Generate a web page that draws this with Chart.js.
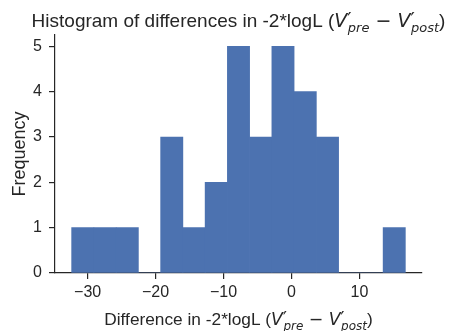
<!DOCTYPE html>
<html>
<head>
<meta charset="utf-8">
<script src="https://cdn.jsdelivr.net/npm/chart.js@4.4.1/dist/chart.umd.min.js"></script>
<style>
  html, body { margin: 0; padding: 0; background: #fff; }
  canvas { display: block; }
</style>
</head>
<body>
<canvas id="chart" width="453" height="331"></canvas>
<script>
// histogram bins (edges) and counts per bin
const binEdges = [-32.35, -29.08, -25.80, -22.53, -19.26, -15.98, -12.71, -9.44,
                  -6.16, -2.89, 0.38, 3.66, 6.93, 10.20, 13.48, 16.75];
const counts = [1, 1, 1, 0, 3, 1, 2, 5, 3, 5, 4, 3, 0, 0, 1];
const xTicks = [-30, -20, -10, 0, 10];
const yTicks = [0, 1, 2, 3, 4, 5];

const textColor = '#262626';
const barColor = '#4c72b0';
const sans = '"Liberation Sans", Arial, sans-serif';
const math = '"DejaVu Sans", sans-serif';

// title / x label with the little math part
function mathLabel(prefix, size) {
    const sub = Math.round(size * 0.7);
    return [
        { t: prefix, font: size + 'px ' + sans },
        { t: 'V', font: 'italic ' + size + 'px ' + math },
        { t: '\u2032', font: size + 'px ' + math, dy: -1 },
        { t: 'pre', font: 'italic ' + sub + 'px ' + math, dy: size * 0.28, dx: -size * 0.2 },
        { t: ' \u2212 ', font: size + 'px ' + math },
        { t: 'V', font: 'italic ' + size + 'px ' + math },
        { t: '\u2032', font: size + 'px ' + math, dy: -1 },
        { t: 'post', font: 'italic ' + sub + 'px ' + math, dy: size * 0.28, dx: -size * 0.2 },
        { t: ')', font: size + 'px ' + sans }
    ];
}

function drawRich(ctx, parts, cx, baseline) {
    let total = 0;
    parts.forEach(p => { ctx.font = p.font; p.w = ctx.measureText(p.t).width + (p.dx || 0); total += p.w; });
    let x = cx - total / 2;
    ctx.textAlign = 'left';
    ctx.textBaseline = 'alphabetic';
    parts.forEach(p => {
        ctx.font = p.font;
        ctx.fillText(p.t, x + (p.dx || 0), baseline + (p.dy || 0));
        x += p.w;
    });
}

const labelsPlugin = {
    id: 'labels',
    afterDraw(chart) {
        const ctx = chart.ctx;
        const area = chart.chartArea;
        const cx = (area.left + area.right) / 2;
        ctx.save();
        ctx.fillStyle = textColor;
        drawRich(ctx, mathLabel('Histogram of differences in -2*logL (', 19), cx, 27);
        drawRich(ctx, mathLabel('Difference in -2*logL (', 17.3), cx, 325);
        ctx.translate(25, (area.top + area.bottom) / 2);
        ctx.rotate(-Math.PI / 2);
        ctx.font = '18px ' + sans;
        ctx.textAlign = 'center';
        ctx.textBaseline = 'alphabetic';
        ctx.fillText('Frequency', 0, 0);
        ctx.restore();
    }
};

const fmt = v => v < 0 ? '\u2212' + Math.abs(v) : String(v);

new Chart(document.getElementById('chart'), {
    type: 'bar',
    data: {
        datasets: [{
            data: counts.map((c, i) => ({ x: (binEdges[i] + binEdges[i + 1]) / 2, y: c })),
            backgroundColor: barColor,
            borderWidth: 0,
            barPercentage: 1,
            categoryPercentage: 1
        }]
    },
    options: {
        responsive: false,
        animation: false,
        devicePixelRatio: 1,
        layout: { padding: { top: 35, right: 31, left: 0, bottom: 0 } },
        plugins: { legend: { display: false }, tooltip: { enabled: false } },
        scales: {
            x: {
                type: 'linear',
                min: -34.8,
                max: 19.2,
                offset: false,
                afterBuildTicks: s => { s.ticks = xTicks.map(v => ({ value: v })); },
                afterFit: s => { s.height = 58; },
                grid: { offset: false, drawOnChartArea: false, drawTicks: true, tickLength: 6, color: textColor, lineWidth: 1.2 },
                border: { color: textColor, width: 1.2 },
                ticks: { color: textColor, font: { family: sans, size: 16 }, padding: 4, callback: fmt, maxRotation: 0 }
            },
            y: {
                min: 0,
                max: 5.25,
                afterBuildTicks: s => { s.ticks = yTicks.map(v => ({ value: v })); },
                afterFit: s => { s.width = 55; },
                grid: { drawOnChartArea: false, drawTicks: true, tickLength: 6, color: textColor, lineWidth: 1.2 },
                border: { color: textColor, width: 1.2 },
                ticks: { color: textColor, font: { family: sans, size: 16 }, padding: 7, callback: fmt }
            }
        }
    },
    plugins: [labelsPlugin]
});
</script>
</body>
</html>
